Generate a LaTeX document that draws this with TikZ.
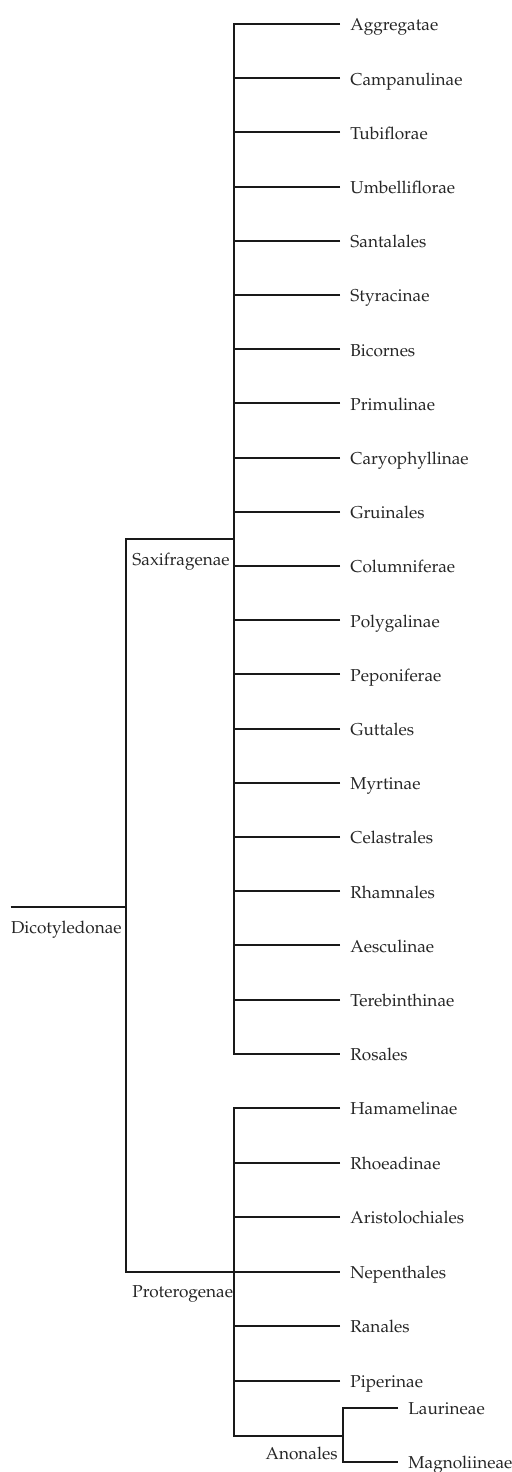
\documentclass[tikz,border=0pt]{standalone}
\usepackage[T1]{fontenc}
\usepackage{mathpazo}
\usepackage{tikz}
\usetikzlibrary{positioning}
\tikzset{
  leaf/.style = {anchor=west, inner xsep=5pt, inner ysep=0pt, text height=1.45ex, text depth=0pt, font=\fontsize{8.6}{10}\selectfont, text=black!85},
  clade/.style = {inner sep=0pt, text height=1.45ex, text depth=0pt, font=\fontsize{8.6}{10}\selectfont, text=black!85},
  branch/.style = {line width=1pt, black!90}
}

\begin{document}
\begin{tikzpicture}[x=0.5pt, y=-0.5pt]
            \useasboundingbox (0,0) rectangle (511,1472);
            % junctions
            \coordinate (root) at (126,907);
            \coordinate (saxj) at (126,539);
            \coordinate (protj) at (126,1272);
            \coordinate (sax) at (234,539);
            \coordinate (prot) at (234,1272);
            \coordinate (anon) at (343,1436);
            % Saxifragenae
            \node[leaf] (aggregatae) at (340,24) {Aggregatae};
            \node[leaf] (campanulinae) at (340,78.2) {Campanulinae};
            \node[leaf] (tubiflorae) at (340,132.4) {Tubiflorae};
            \node[leaf] (umbelliflorae) at (340,186.6) {Umbelliflorae};
            \node[leaf] (santalales) at (340,240.8) {Santalales};
            \node[leaf] (styracinae) at (340,295) {Styracinae};
            \node[leaf] (bicornes) at (340,349.2) {Bicornes};
            \node[leaf] (primulinae) at (340,403.4) {Primulinae};
            \node[leaf] (caryophyllinae) at (340,457.6) {Caryophyllinae};
            \node[leaf] (gruinales) at (340,511.8) {Gruinales};
            \node[leaf] (columniferae) at (340,566) {Columniferae};
            \node[leaf] (polygalinae) at (340,620.2) {Polygalinae};
            \node[leaf] (peponiferae) at (340,674.4) {Peponiferae};
            \node[leaf] (guttales) at (340,728.6) {Guttales};
            \node[leaf] (myrtinae) at (340,782.8) {Myrtinae};
            \node[leaf] (celastrales) at (340,837) {Celastrales};
            \node[leaf] (rhamnales) at (340,891.2) {Rhamnales};
            \node[leaf] (aesculinae) at (340,945.4) {Aesculinae};
            \node[leaf] (terebinthinae) at (340,999.6) {Terebinthinae};
            \node[leaf] (rosales) at (340,1053.8) {Rosales};
            % Proterogenae
            \node[leaf] (hamamelinae) at (340,1108) {Hamamelinae};
            \node[leaf] (rhoeadinae) at (340,1163) {Rhoeadinae};
            \node[leaf] (aristolochiales) at (340,1217) {Aristolochiales};
            \node[leaf] (nepenthales) at (340,1272) {Nepenthales};
            \node[leaf] (ranales) at (340,1326) {Ranales};
            \node[leaf] (piperinae) at (340,1381) {Piperinae};
            \node[leaf] (laurineae) at (398,1408) {Laurineae};
            \node[leaf] (magnoliineae) at (398,1462) {Magnoliineae};
            % clade labels
            \node[clade, below left=6pt and 2pt of root] (dicot) {Dicotyledonae};
            \node[clade, below right=6pt and 3pt of saxj] (saxlab) {Saxifragenae};
            \node[clade, below right=5.5pt and 3pt of protj] (protlab) {Proterogenae};
            \node[clade, below left=4.5pt and 2.5pt of anon] (anonlab) {Anonales};
            % branches
            \draw[branch] (root -| dicot.west) -- (root);
            \draw[branch] (sax) -- (saxj) -- (protj) -- (nepenthales.west);
            \draw[branch] (aggregatae.west) -| (sax) |- (rosales.west);
            \draw[branch] (campanulinae.west) -- (campanulinae.west -| sax);
            \draw[branch] (tubiflorae.west) -- (tubiflorae.west -| sax);
            \draw[branch] (umbelliflorae.west) -- (umbelliflorae.west -| sax);
            \draw[branch] (santalales.west) -- (santalales.west -| sax);
            \draw[branch] (styracinae.west) -- (styracinae.west -| sax);
            \draw[branch] (bicornes.west) -- (bicornes.west -| sax);
            \draw[branch] (primulinae.west) -- (primulinae.west -| sax);
            \draw[branch] (caryophyllinae.west) -- (caryophyllinae.west -| sax);
            \draw[branch] (gruinales.west) -- (gruinales.west -| sax);
            \draw[branch] (columniferae.west) -- (columniferae.west -| sax);
            \draw[branch] (polygalinae.west) -- (polygalinae.west -| sax);
            \draw[branch] (peponiferae.west) -- (peponiferae.west -| sax);
            \draw[branch] (guttales.west) -- (guttales.west -| sax);
            \draw[branch] (myrtinae.west) -- (myrtinae.west -| sax);
            \draw[branch] (celastrales.west) -- (celastrales.west -| sax);
            \draw[branch] (rhamnales.west) -- (rhamnales.west -| sax);
            \draw[branch] (aesculinae.west) -- (aesculinae.west -| sax);
            \draw[branch] (terebinthinae.west) -- (terebinthinae.west -| sax);
            \draw[branch] (hamamelinae.west) -| (prot) |- (anon);
            \draw[branch] (rhoeadinae.west) -- (rhoeadinae.west -| prot);
            \draw[branch] (aristolochiales.west) -- (aristolochiales.west -| prot);
            \draw[branch] (ranales.west) -- (ranales.west -| prot);
            \draw[branch] (piperinae.west) -- (piperinae.west -| prot);
            \draw[branch] (laurineae.west) -| (anon) |- (magnoliineae.west);
        \end{tikzpicture}
\end{document}
